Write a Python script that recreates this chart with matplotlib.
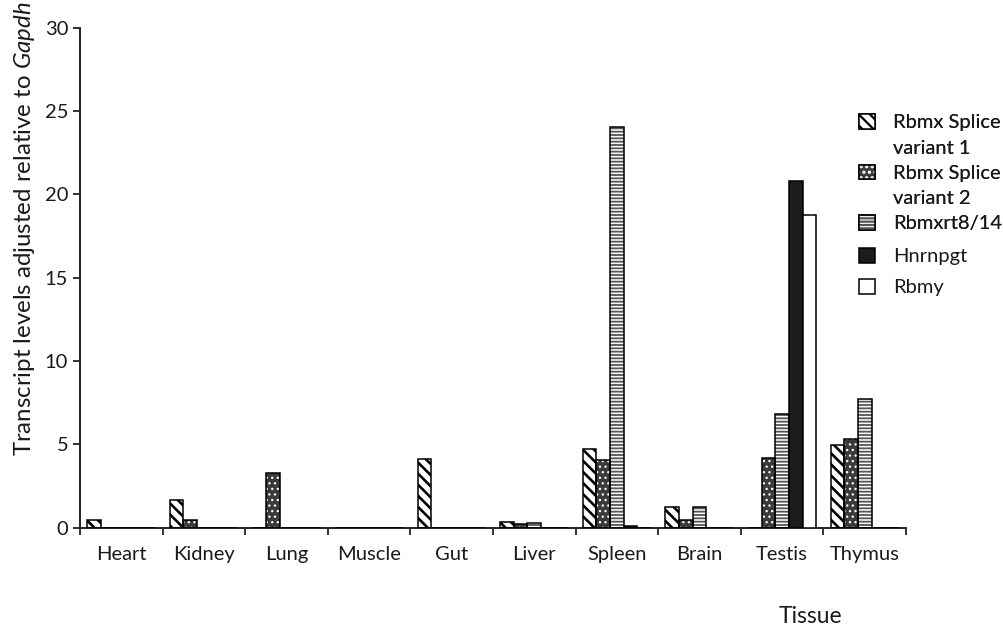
import matplotlib
matplotlib.use("Agg")
import matplotlib.pyplot as plt
from matplotlib.patches import Patch
from matplotlib.legend_handler import HandlerTuple
import numpy as np

tissues = ["Heart", "Kidney", "Lung", "Muscle", "Gut", "Liver", "Spleen", "Brain", "Testis", "Thymus"]
rbmx_v1 = [0.47, 1.68, 0.0, 0.0, 4.1, 0.36, 4.72, 1.25, 0.0, 4.95]
rbmx_v2 = [0.0, 0.46, 3.28, 0.0, 0.0, 0.22, 4.05, 0.46, 4.18, 5.35]
rbmxrt = [0.0, 0.0, 0.0, 0.0, 0.0, 0.26, 24.05, 1.25, 6.8, 7.72]
hnrnpgt = [0.0, 0.0, 0.0, 0.0, 0.0, 0.0, 0.12, 0.0, 20.8, 0.0]
rbmy = [0.0, 0.0, 0.0, 0.0, 0.0, 0.0, 0.0, 0.0, 18.75, 0.0]
yticks = [0, 5, 10, 15, 20, 25, 30]

plt.rcParams['font.family'] = ['Lato', 'DejaVu Sans']
plt.rcParams['mathtext.fontset'] = 'custom'
plt.rcParams['mathtext.rm'] = 'Lato'
plt.rcParams['mathtext.it'] = 'Lato:italic'
plt.rcParams['hatch.linewidth'] = 1.6

fig = plt.figure(figsize=(10.04, 6.27), dpi=100)
ax = fig.add_axes([80/1004, (627-527.7)/627, 826/1004, 500/627])

x = np.arange(len(tissues))
w = 0.165
styles = [
    dict(face='white', hatchcol='black', hatch='\\\\\\', hlw=1.9),
    dict(face='#3a3a3a', hatchcol='white', hatch='...', hlw=0.9),
    dict(face='white', hatchcol='#555555', hatch='-----', hlw=1.3),
    dict(face='#1c1c1c', hatchcol=None, hatch=None, hlw=1.0),
    dict(face='white', hatchcol=None, hatch=None, hlw=1.0),
]
data = [rbmx_v1, rbmx_v2, rbmxrt, hnrnpgt, rbmy]
handles = []
for i, (vals, st) in enumerate(zip(data, styles)):
    pos = x + (i - 2) * w
    with plt.rc_context({'hatch.linewidth': st['hlw']}):
        if st['hatch']:
            bars = ax.bar(pos, vals, w, color=st['face'], edgecolor=st['hatchcol'],
                          hatch=st['hatch'], linewidth=0, zorder=2)
            ax.bar(pos, vals, w, facecolor='none', edgecolor='black', linewidth=1.1, zorder=3)
            hp = Patch(facecolor=st['face'], edgecolor=st['hatchcol'], hatch=st['hatch'], linewidth=0)
            for b in list(bars) + [hp]:
                if hasattr(b, 'set_hatch_linewidth'):
                    b.set_hatch_linewidth(st['hlw'])
            h = (hp, Patch(facecolor='none', edgecolor='black', linewidth=1.1))
        else:
            ax.bar(pos, vals, w, color=st['face'], edgecolor='black', linewidth=1.1, zorder=3)
            h = Patch(facecolor=st['face'], edgecolor='black', linewidth=1.1)
    handles.append(h)

ax.set_xlim(-0.5, len(tissues) - 0.5)
ax.set_ylim(0, 30)
ax.set_yticks(yticks)
ax.set_xticks(np.arange(-0.5, len(tissues) + 0.5, 1.0))
ax.set_xticklabels([])
ax.set_xticks(x, minor=True)
ax.set_xticklabels(tissues, minor=True)
ax.tick_params(axis='x', which='major', length=5, width=1.3, color='#222222')
ax.tick_params(axis='x', which='minor', length=0, pad=13.5, labelsize=14.5, labelcolor='#1a1a1a')
ax.tick_params(axis='y', length=5, width=1.3, pad=3.5, labelsize=14.5, labelcolor='#1a1a1a', color='#222222')
for s in ['top', 'right']:
    ax.spines[s].set_visible(False)
for s in ['left', 'bottom']:
    ax.spines[s].set_linewidth(1.4)
    ax.spines[s].set_color('#222222')

fig.text(25/1004, 1 - 229/627, r'Transcript levels adjusted relative to $\it{Gapdh}$',
         rotation=90, ha='center', va='center', fontsize=17.3, color='#1a1a1a')
fig.text(810/1004, 1 - 623/627, 'Tissue', ha='center', va='baseline', fontsize=16.5, color='#1a1a1a')

blank = Patch(facecolor='none', edgecolor='none')
lab1 = ["Rbmx Splice", "variant 1", "Rbmx Splice", "variant 2", "Rbmxrt8/14"]
hd1 = [handles[0], blank, handles[1], blank, handles[2]]
hmap = {tuple: HandlerTuple(ndivide=1, pad=0)}
leg1 = fig.legend(hd1, lab1, loc='upper left', bbox_to_anchor=(859/1004, 1 - 114/627),
                  frameon=False, borderpad=0, borderaxespad=0, fontsize=14.5,
                  handlelength=0.8, handleheight=0.75, handletextpad=0.9, labelspacing=0.39,
                  handler_map=hmap, labelcolor='#1a1a1a')
leg2 = fig.legend([handles[3], handles[4]], ["Hnrnpgt", "Rbmy"], loc='upper left',
                  bbox_to_anchor=(859/1004, 1 - 248/627),
                  frameon=False, borderpad=0, borderaxespad=0, fontsize=14.5,
                  handlelength=0.8, handleheight=0.75, handletextpad=0.9, labelspacing=0.67,
                  labelcolor='#1a1a1a')
fig.add_artist(leg1)

fig.savefig('out.png', dpi=100)
